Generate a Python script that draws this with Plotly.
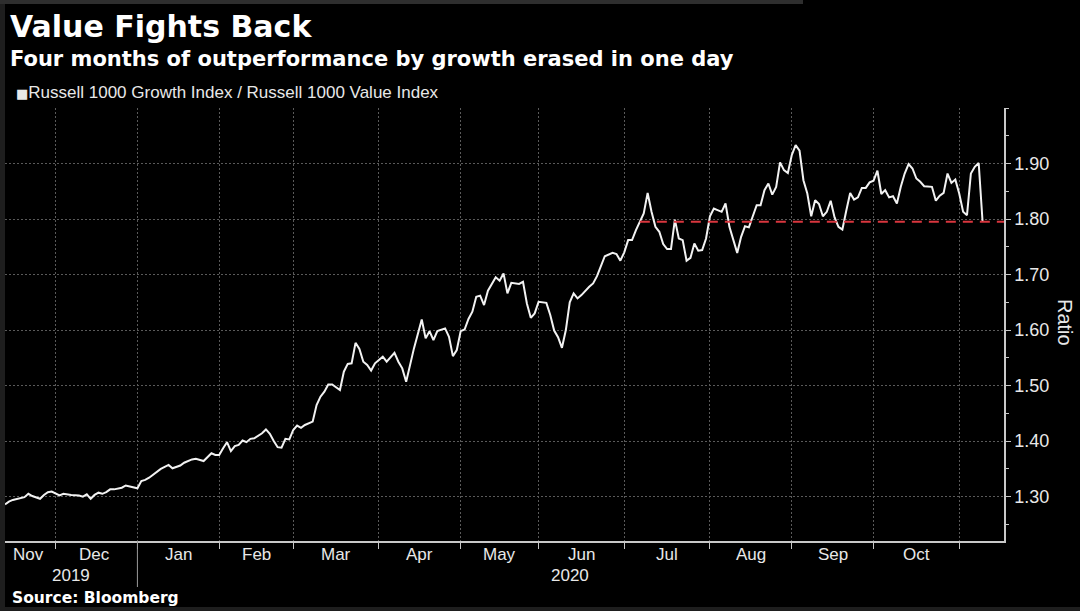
import plotly.graph_objects as go

# ---------------- data ----------------
dates = [
    "2019-11-11", "2019-11-12", "2019-11-13", "2019-11-14", "2019-11-18", "2019-11-19",
    "2019-11-20", "2019-11-22", "2019-11-25", "2019-11-26", "2019-11-27",
    "2019-12-02", "2019-12-03", "2019-12-05", "2019-12-09", "2019-12-10", "2019-12-11",
    "2019-12-12", "2019-12-13", "2019-12-16", "2019-12-17", "2019-12-18", "2019-12-19",
    "2019-12-20", "2019-12-24", "2019-12-26", "2019-12-30", "2019-12-31",
    "2020-01-02", "2020-01-03", "2020-01-06", "2020-01-08", "2020-01-09", "2020-01-13",
    "2020-01-14", "2020-01-16", "2020-01-17", "2020-01-22", "2020-01-23", "2020-01-27",
    "2020-01-28", "2020-01-29", "2020-01-30", "2020-01-31",
    "2020-02-03", "2020-02-04", "2020-02-05", "2020-02-06", "2020-02-07", "2020-02-10",
    "2020-02-11", "2020-02-12", "2020-02-13", "2020-02-18", "2020-02-19", "2020-02-20",
    "2020-02-21", "2020-02-24", "2020-02-25", "2020-02-26", "2020-02-27", "2020-02-28",
    "2020-03-02", "2020-03-03", "2020-03-04", "2020-03-06", "2020-03-09", "2020-03-10",
    "2020-03-11", "2020-03-12", "2020-03-13", "2020-03-17", "2020-03-18", "2020-03-19",
    "2020-03-20", "2020-03-23", "2020-03-24", "2020-03-25", "2020-03-26", "2020-03-27",
    "2020-03-30",
    "2020-04-01", "2020-04-02", "2020-04-06", "2020-04-07", "2020-04-08", "2020-04-09",
    "2020-04-13", "2020-04-14", "2020-04-16", "2020-04-17", "2020-04-20", "2020-04-21",
    "2020-04-22", "2020-04-24", "2020-04-27", "2020-04-28", "2020-04-29", "2020-04-30",
    "2020-05-01", "2020-05-04", "2020-05-05", "2020-05-06", "2020-05-07", "2020-05-08",
    "2020-05-11", "2020-05-12", "2020-05-13", "2020-05-14", "2020-05-15", "2020-05-18",
    "2020-05-19", "2020-05-21", "2020-05-22", "2020-05-26", "2020-05-27", "2020-05-28",
    "2020-05-29",
    "2020-06-02", "2020-06-03", "2020-06-04", "2020-06-05", "2020-06-08", "2020-06-09",
    "2020-06-10", "2020-06-11", "2020-06-12", "2020-06-15", "2020-06-17", "2020-06-18",
    "2020-06-19", "2020-06-22", "2020-06-23", "2020-06-25", "2020-06-26", "2020-06-29",
    "2020-06-30",
    "2020-07-01", "2020-07-02", "2020-07-06", "2020-07-08", "2020-07-09", "2020-07-10",
    "2020-07-13", "2020-07-14", "2020-07-15", "2020-07-16", "2020-07-17", "2020-07-20",
    "2020-07-21", "2020-07-22", "2020-07-23", "2020-07-24", "2020-07-27", "2020-07-28",
    "2020-07-29", "2020-07-30", "2020-07-31",
    "2020-08-03", "2020-08-05", "2020-08-06", "2020-08-07", "2020-08-10", "2020-08-11",
    "2020-08-12", "2020-08-13", "2020-08-14", "2020-08-17", "2020-08-18", "2020-08-19",
    "2020-08-20", "2020-08-21", "2020-08-24", "2020-08-25", "2020-08-26", "2020-08-27",
    "2020-08-28", "2020-08-31",
    "2020-09-01", "2020-09-02", "2020-09-03", "2020-09-04", "2020-09-08", "2020-09-09",
    "2020-09-10", "2020-09-11", "2020-09-14", "2020-09-15", "2020-09-16", "2020-09-17",
    "2020-09-18", "2020-09-21", "2020-09-22", "2020-09-23", "2020-09-24", "2020-09-25",
    "2020-09-28", "2020-09-29", "2020-09-30",
    "2020-10-01", "2020-10-02", "2020-10-05", "2020-10-06", "2020-10-07", "2020-10-08",
    "2020-10-09", "2020-10-12", "2020-10-13", "2020-10-14", "2020-10-15", "2020-10-16",
    "2020-10-19", "2020-10-20", "2020-10-21", "2020-10-22", "2020-10-23", "2020-10-26",
    "2020-10-27", "2020-10-28", "2020-10-29", "2020-10-30",
    "2020-11-02", "2020-11-03", "2020-11-04", "2020-11-05", "2020-11-06", "2020-11-09",
]

ratio = [
    1.286, 1.291, 1.294, 1.296, 1.299, 1.305,
    1.301, 1.296, 1.303, 1.308, 1.309,
    1.302, 1.305, 1.303, 1.302, 1.300, 1.304,
    1.296, 1.303, 1.307, 1.305, 1.308, 1.313,
    1.313, 1.316, 1.320, 1.317, 1.315,
    1.328, 1.330, 1.334, 1.345, 1.350, 1.357,
    1.351, 1.356, 1.361, 1.367, 1.368, 1.364,
    1.371, 1.378, 1.375, 1.375,
    1.387, 1.398, 1.382, 1.391, 1.393, 1.401,
    1.398, 1.404, 1.405, 1.414, 1.421, 1.413,
    1.400, 1.389, 1.388, 1.404, 1.403, 1.420,
    1.428, 1.424, 1.429, 1.435, 1.465, 1.480,
    1.489, 1.502, 1.502, 1.492, 1.525, 1.539,
    1.540, 1.577, 1.566, 1.543, 1.537, 1.527,
    1.540,
    1.552, 1.543, 1.559, 1.543, 1.531, 1.507,
    1.537, 1.567, 1.619, 1.585, 1.598, 1.582,
    1.598, 1.603, 1.588, 1.553, 1.564, 1.598,
    1.601, 1.620, 1.633, 1.660, 1.662, 1.645,
    1.671, 1.684, 1.695, 1.689, 1.702, 1.666,
    1.685, 1.683, 1.687, 1.648, 1.622, 1.630,
    1.651,
    1.649, 1.627, 1.599, 1.587, 1.568, 1.600,
    1.650, 1.666, 1.657, 1.663, 1.678, 1.684,
    1.697, 1.717, 1.733, 1.739, 1.737, 1.725,
    1.740,
    1.762, 1.762, 1.780, 1.810, 1.847, 1.813,
    1.786, 1.777, 1.755, 1.746, 1.746, 1.799,
    1.765, 1.762, 1.725, 1.730, 1.756, 1.743,
    1.744, 1.765, 1.805,
    1.819, 1.813, 1.828, 1.786, 1.762, 1.739,
    1.768, 1.787, 1.785, 1.804, 1.825, 1.825,
    1.852, 1.864, 1.844, 1.858, 1.902, 1.888,
    1.883, 1.915,
    1.933, 1.923, 1.870, 1.846, 1.805, 1.834,
    1.827, 1.805, 1.813, 1.833, 1.803, 1.786,
    1.781, 1.815, 1.847, 1.835, 1.839, 1.856,
    1.856, 1.866, 1.869,
    1.887, 1.845, 1.852, 1.839, 1.841, 1.828,
    1.858, 1.882, 1.899, 1.891, 1.873, 1.867,
    1.859, 1.858, 1.858, 1.833, 1.842, 1.847,
    1.882, 1.865, 1.871, 1.846,
    1.813, 1.807, 1.882, 1.894, 1.901, 1.795,
]

# US market holidays in the window (skipped on the trading-day axis)
holidays = ["2019-11-28", "2019-12-25", "2020-01-01", "2020-01-20", "2020-02-17",
            "2020-04-10", "2020-05-25", "2020-07-03", "2020-09-07"]

# month boundaries (last trading day of each month) -> gridlines / ticks
month_ends = ["2019-11-29", "2019-12-31", "2020-01-31", "2020-02-28", "2020-03-31",
              "2020-04-30", "2020-05-29", "2020-06-30", "2020-07-31", "2020-08-31",
              "2020-09-30", "2020-10-30"]

month_labels = ["Nov", "Dec", "Jan", "Feb", "Mar", "Apr", "May", "Jun",
                "Jul", "Aug", "Sep", "Oct"]
month_label_dates = ["2019-11-19", "2019-12-13", "2020-01-15 12:00", "2020-02-13 12:00",
                     "2020-03-16", "2020-04-15 12:00", "2020-05-14", "2020-06-15",
                     "2020-07-16", "2020-08-14 12:00", "2020-09-15 12:00", "2020-10-15"]

year_labels = ["2019", "2020"]
year_label_dates = ["2019-12-05", "2020-06-10"]
year_boundary = "2019-12-31"

y_ticks = [1.30, 1.40, 1.50, 1.60, 1.70, 1.80, 1.90]
y_range = [1.22, 2.0]

ref_line_start = "2020-07-07"
x_end = "2020-11-16 12:00"

series_name = "Russell 1000 Growth Index / Russell 1000 Value Index"

# ---------------- layout geometry ----------------
W, H = 1080, 611
ML, MR, MT, MB = 5, 76, 108, 70
PW, PH = W - ML - MR, H - MT - MB


def px(p):
    return (p - ML) / PW


def py(p):
    return (H - MB - p) / PH


SANS = "Liberation Sans, Arial, sans-serif"
BOLD = "DejaVu Sans, Verdana, sans-serif"
GRID = "#5a5a5a"
AXIS = "#c8c8c8"

fig = go.Figure()

fig.add_trace(go.Scatter(
    x=dates, y=ratio, mode="lines", name=series_name,
    line=dict(color="#f2f2f2", width=2), showlegend=False,
))

fig.add_trace(go.Scatter(
    x=[ref_line_start, x_end], y=[ratio[-1], ratio[-1]], mode="lines",
    line=dict(color="#d9363e", width=2, dash="10px,7px"), showlegend=False,
))

annotations = [
    dict(text="<b>Value Fights Back</b>", x=px(8), y=py(26), xref="paper", yref="paper",
         xanchor="left", yanchor="middle", showarrow=False,
         font=dict(family=BOLD, size=30, color="#ffffff")),
    dict(text="<b>Four months of outperformance by growth erased in one day</b>",
         x=px(8), y=py(59), xref="paper", yref="paper",
         xanchor="left", yanchor="middle", showarrow=False,
         font=dict(family=BOLD, size=21, color="#ffffff")),
    dict(text="<span style='font-family:DejaVu Sans;font-size:13px'>\u25A0</span>" + series_name,
         x=px(14), y=py(93), xref="paper", yref="paper",
         xanchor="left", yanchor="middle", showarrow=False,
         font=dict(family=SANS, size=17, color="#e8e8e8")),
    dict(text="Ratio", x=px(1065), y=py(322), xref="paper", yref="paper",
         xanchor="center", yanchor="middle", showarrow=False, textangle=90,
         font=dict(family=SANS, size=20, color="#e8e8e8")),
    dict(text="<b>Source: Bloomberg</b>", x=px(10), y=py(598), xref="paper", yref="paper",
         xanchor="left", yanchor="middle", showarrow=False,
         font=dict(family=BOLD, size=15.5, color="#ffffff")),
]

for lab, d in zip(month_labels, month_label_dates):
    annotations.append(dict(text=lab, x=d, y=py(554), xref="x", yref="paper",
                            xanchor="center", yanchor="middle", showarrow=False,
                            font=dict(family=SANS, size=17, color="#e8e8e8")))
for lab, d in zip(year_labels, year_label_dates):
    annotations.append(dict(text=lab, x=d, y=py(575), xref="x", yref="paper",
                            xanchor="center", yanchor="middle", showarrow=False,
                            font=dict(family=SANS, size=17, color="#e8e8e8")))

shapes = [
    # year separator below the axis
    dict(type="line", xref="x", yref="paper", x0=year_boundary, x1=year_boundary,
         y0=0, y1=py(587), line=dict(color="#9a9a9a", width=1)),
    # screenshot frame strips
    dict(type="rect", xref="paper", yref="paper", x0=px(0), x1=px(5), y0=py(611), y1=py(0),
         fillcolor="#1e1e1e", line=dict(width=0), layer="below"),
    dict(type="rect", xref="paper", yref="paper", x0=px(0), x1=px(803), y0=py(4), y1=py(0),
         fillcolor="#2e2e2e", line=dict(width=0), layer="below"),
    dict(type="rect", xref="paper", yref="paper", x0=px(0), x1=px(1080), y0=py(611), y1=py(607),
         fillcolor="#1e1e1e", line=dict(width=0), layer="below"),
]

fig.update_layout(
    width=W, height=H,
    margin=dict(l=ML, r=MR, t=MT, b=MB, pad=0),
    paper_bgcolor="#000000", plot_bgcolor="#000000",
    showlegend=False,
    annotations=annotations,
    shapes=shapes,
    xaxis=dict(
        type="date",
        range=[dates[0], x_end],
        rangebreaks=[dict(bounds=["sat", "mon"]), dict(values=holidays)],
        tickmode="array", tickvals=month_ends, showticklabels=False,
        ticks="outside", ticklen=6, tickcolor=AXIS, tickwidth=1,
        showline=True, linecolor=AXIS, linewidth=1.5,
        showgrid=True, gridcolor=GRID, gridwidth=1, griddash="2px,2px",
        zeroline=False, fixedrange=True,
    ),
    yaxis=dict(
        side="right", range=y_range,
        tickmode="array", tickvals=y_ticks, tickformat=".2f",
        tickfont=dict(family=SANS, size=18, color="#e8e8e8"),
        ticks="outside", ticklen=5, tickcolor=AXIS, tickwidth=1,
        showline=True, linecolor=AXIS, linewidth=1.5,
        showgrid=True, gridcolor=GRID, gridwidth=1, griddash="2px,2px",
        zeroline=False, fixedrange=True,
        minor=dict(dtick=0.05, tick0=1.25, ticks="outside", ticklen=3,
                   tickcolor=AXIS, showgrid=False),
    ),
)

fig.write_html("out.html", config={"displayModeBar": False})
